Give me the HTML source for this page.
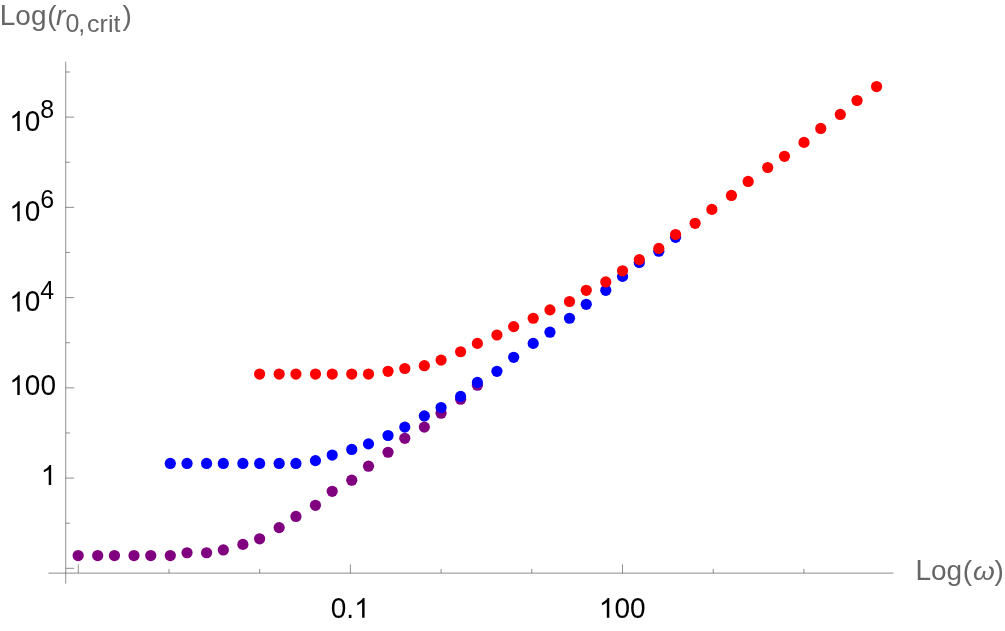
<!DOCTYPE html>
<html><head><meta charset="utf-8"><title>plot</title>
<style>
html,body{margin:0;padding:0;background:#fff;}
svg{display:block;will-change:transform;}
text{font-family:"Liberation Sans",sans-serif;}
</style></head>
<body>
<svg width="1005" height="631" viewBox="0 0 1005 631">
<rect width="1005" height="631" fill="#fff"/>
<g stroke="#666666" stroke-width="0.74" fill="none">
<line x1="65.72" y1="61.6" x2="65.72" y2="583.6"/>
<line x1="48.5" y1="573.12" x2="893.5" y2="573.12"/>
<line x1="65.72" y1="568.32" x2="74.12" y2="568.32"/>
<line x1="65.72" y1="523.20" x2="69.92" y2="523.20"/>
<line x1="65.72" y1="478.08" x2="74.12" y2="478.08"/>
<line x1="65.72" y1="432.96" x2="69.92" y2="432.96"/>
<line x1="65.72" y1="387.84" x2="74.12" y2="387.84"/>
<line x1="65.72" y1="342.72" x2="69.92" y2="342.72"/>
<line x1="65.72" y1="297.60" x2="74.12" y2="297.60"/>
<line x1="65.72" y1="252.48" x2="69.92" y2="252.48"/>
<line x1="65.72" y1="207.36" x2="74.12" y2="207.36"/>
<line x1="65.72" y1="162.24" x2="69.92" y2="162.24"/>
<line x1="65.72" y1="117.12" x2="74.12" y2="117.12"/>
<line x1="65.72" y1="72.00" x2="69.92" y2="72.00"/>
<line x1="78.30" y1="573.12" x2="78.30" y2="564.42"/>
<line x1="169.00" y1="573.12" x2="169.00" y2="568.92"/>
<line x1="259.70" y1="573.12" x2="259.70" y2="568.92"/>
<line x1="350.40" y1="573.12" x2="350.40" y2="564.42"/>
<line x1="441.10" y1="573.12" x2="441.10" y2="568.92"/>
<line x1="531.80" y1="573.12" x2="531.80" y2="568.92"/>
<line x1="622.50" y1="573.12" x2="622.50" y2="564.42"/>
<line x1="713.20" y1="573.12" x2="713.20" y2="568.92"/>
<line x1="803.90" y1="573.12" x2="803.90" y2="568.92"/>
</g>
<g>
<circle cx="78.17" cy="555.54" r="5.6" fill="#800080"/>
<circle cx="97.71" cy="555.54" r="5.6" fill="#800080"/>
<circle cx="114.46" cy="555.54" r="5.6" fill="#800080"/>
<circle cx="134.00" cy="555.54" r="5.6" fill="#800080"/>
<circle cx="150.75" cy="555.54" r="5.6" fill="#800080"/>
<circle cx="170.29" cy="555.54" r="5.6" fill="#800080"/>
<circle cx="187.04" cy="552.75" r="5.6" fill="#800080"/>
<circle cx="206.58" cy="552.75" r="5.6" fill="#800080"/>
<circle cx="223.33" cy="549.96" r="5.6" fill="#800080"/>
<circle cx="242.88" cy="544.38" r="5.6" fill="#800080"/>
<circle cx="259.62" cy="538.79" r="5.6" fill="#800080"/>
<circle cx="279.17" cy="527.62" r="5.6" fill="#800080"/>
<circle cx="295.92" cy="516.46" r="5.6" fill="#800080"/>
<circle cx="315.46" cy="505.29" r="5.6" fill="#800080"/>
<circle cx="332.21" cy="491.33" r="5.6" fill="#800080"/>
<circle cx="351.75" cy="480.17" r="5.6" fill="#800080"/>
<circle cx="368.50" cy="466.21" r="5.6" fill="#800080"/>
<circle cx="388.04" cy="452.25" r="5.6" fill="#800080"/>
<circle cx="404.79" cy="438.29" r="5.6" fill="#800080"/>
<circle cx="424.33" cy="427.12" r="5.6" fill="#800080"/>
<circle cx="441.08" cy="413.17" r="5.6" fill="#800080"/>
<circle cx="460.62" cy="399.21" r="5.6" fill="#800080"/>
<circle cx="477.38" cy="385.25" r="5.6" fill="#800080"/>
</g>
<g>
<circle cx="170.29" cy="463.42" r="5.6" fill="#0000ff"/>
<circle cx="187.04" cy="463.42" r="5.6" fill="#0000ff"/>
<circle cx="206.58" cy="463.42" r="5.6" fill="#0000ff"/>
<circle cx="223.33" cy="463.42" r="5.6" fill="#0000ff"/>
<circle cx="242.88" cy="463.42" r="5.6" fill="#0000ff"/>
<circle cx="259.62" cy="463.42" r="5.6" fill="#0000ff"/>
<circle cx="279.17" cy="463.42" r="5.6" fill="#0000ff"/>
<circle cx="295.92" cy="463.42" r="5.6" fill="#0000ff"/>
<circle cx="315.46" cy="460.62" r="5.6" fill="#0000ff"/>
<circle cx="332.21" cy="455.04" r="5.6" fill="#0000ff"/>
<circle cx="351.75" cy="449.46" r="5.6" fill="#0000ff"/>
<circle cx="368.50" cy="443.88" r="5.6" fill="#0000ff"/>
<circle cx="388.04" cy="435.50" r="5.6" fill="#0000ff"/>
<circle cx="404.79" cy="427.12" r="5.6" fill="#0000ff"/>
<circle cx="424.33" cy="415.96" r="5.6" fill="#0000ff"/>
<circle cx="441.08" cy="407.58" r="5.6" fill="#0000ff"/>
<circle cx="460.62" cy="396.42" r="5.6" fill="#0000ff"/>
<circle cx="477.38" cy="382.46" r="5.6" fill="#0000ff"/>
<circle cx="496.92" cy="371.29" r="5.6" fill="#0000ff"/>
<circle cx="513.67" cy="357.33" r="5.6" fill="#0000ff"/>
<circle cx="533.21" cy="343.38" r="5.6" fill="#0000ff"/>
<circle cx="549.96" cy="332.21" r="5.6" fill="#0000ff"/>
<circle cx="569.50" cy="318.25" r="5.6" fill="#0000ff"/>
<circle cx="586.25" cy="304.29" r="5.6" fill="#0000ff"/>
<circle cx="605.79" cy="290.33" r="5.6" fill="#0000ff"/>
<circle cx="622.54" cy="276.38" r="5.6" fill="#0000ff"/>
<circle cx="639.29" cy="262.42" r="5.6" fill="#0000ff"/>
<circle cx="658.83" cy="251.25" r="5.6" fill="#0000ff"/>
<circle cx="675.58" cy="237.29" r="5.6" fill="#0000ff"/>
</g>
<g>
<circle cx="259.62" cy="374.08" r="5.6" fill="#ff0000"/>
<circle cx="279.17" cy="374.08" r="5.6" fill="#ff0000"/>
<circle cx="295.92" cy="374.08" r="5.6" fill="#ff0000"/>
<circle cx="315.46" cy="374.08" r="5.6" fill="#ff0000"/>
<circle cx="332.21" cy="374.08" r="5.6" fill="#ff0000"/>
<circle cx="351.75" cy="374.08" r="5.6" fill="#ff0000"/>
<circle cx="368.50" cy="374.08" r="5.6" fill="#ff0000"/>
<circle cx="388.04" cy="371.29" r="5.6" fill="#ff0000"/>
<circle cx="404.79" cy="368.50" r="5.6" fill="#ff0000"/>
<circle cx="424.33" cy="365.71" r="5.6" fill="#ff0000"/>
<circle cx="441.08" cy="360.12" r="5.6" fill="#ff0000"/>
<circle cx="460.62" cy="351.75" r="5.6" fill="#ff0000"/>
<circle cx="477.38" cy="343.38" r="5.6" fill="#ff0000"/>
<circle cx="496.92" cy="335.00" r="5.6" fill="#ff0000"/>
<circle cx="513.67" cy="326.62" r="5.6" fill="#ff0000"/>
<circle cx="533.21" cy="318.25" r="5.6" fill="#ff0000"/>
<circle cx="549.96" cy="309.88" r="5.6" fill="#ff0000"/>
<circle cx="569.50" cy="301.50" r="5.6" fill="#ff0000"/>
<circle cx="586.25" cy="290.33" r="5.6" fill="#ff0000"/>
<circle cx="605.79" cy="281.96" r="5.6" fill="#ff0000"/>
<circle cx="622.54" cy="270.79" r="5.6" fill="#ff0000"/>
<circle cx="639.29" cy="259.62" r="5.6" fill="#ff0000"/>
<circle cx="658.83" cy="248.46" r="5.6" fill="#ff0000"/>
<circle cx="675.58" cy="234.50" r="5.6" fill="#ff0000"/>
<circle cx="695.12" cy="223.33" r="5.6" fill="#ff0000"/>
<circle cx="711.88" cy="209.38" r="5.6" fill="#ff0000"/>
<circle cx="731.42" cy="195.42" r="5.6" fill="#ff0000"/>
<circle cx="748.17" cy="181.46" r="5.6" fill="#ff0000"/>
<circle cx="767.71" cy="167.50" r="5.6" fill="#ff0000"/>
<circle cx="784.46" cy="156.33" r="5.6" fill="#ff0000"/>
<circle cx="804.00" cy="142.38" r="5.6" fill="#ff0000"/>
<circle cx="820.75" cy="128.42" r="5.6" fill="#ff0000"/>
<circle cx="840.29" cy="114.46" r="5.6" fill="#ff0000"/>
<circle cx="857.04" cy="100.50" r="5.6" fill="#ff0000"/>
<circle cx="876.58" cy="86.54" r="5.6" fill="#ff0000"/>
</g>
<g fill="#000">
<path d="M763 0H583V1147Q518 1085 412.5 1023T223 930V1104Q374 1175 487 1276T647 1472H763Z" transform="translate(9.30,130.97) scale(0.013672,-0.013508)"/><text transform="translate(24.87,130.97) scale(1,1.041)" font-size="28">0</text>
<text transform="translate(40.34,118.07) scale(1,1.041)" font-size="25">8</text>
<path d="M763 0H583V1147Q518 1085 412.5 1023T223 930V1104Q374 1175 487 1276T647 1472H763Z" transform="translate(9.30,221.21) scale(0.013672,-0.013508)"/><text transform="translate(24.87,221.21) scale(1,1.041)" font-size="28">0</text>
<text transform="translate(40.34,208.31) scale(1,1.041)" font-size="25">6</text>
<path d="M763 0H583V1147Q518 1085 412.5 1023T223 930V1104Q374 1175 487 1276T647 1472H763Z" transform="translate(9.30,311.45) scale(0.013672,-0.013508)"/><text transform="translate(24.87,311.45) scale(1,1.041)" font-size="28">0</text>
<text transform="translate(40.34,298.55) scale(1,1.041)" font-size="25">4</text>
<path d="M763 0H583V1147Q518 1085 412.5 1023T223 930V1104Q374 1175 487 1276T647 1472H763Z" transform="translate(9.30,395.04) scale(0.013672,-0.013508)"/><text transform="translate(24.87,395.04) scale(1,1.041)" font-size="28">0</text><text transform="translate(40.44,395.04) scale(1,1.041)" font-size="28">0</text>
<path d="M763 0H583V1147Q518 1085 412.5 1023T223 930V1104Q374 1175 487 1276T647 1472H763Z" transform="translate(40.74,484.93) scale(0.013672,-0.013508)"/>
<text transform="translate(330.80,617.85) scale(1,1.041)" font-size="28">0</text><text transform="translate(346.37,617.85) scale(1,1.041)" font-size="28">.</text><path d="M763 0H583V1147Q518 1085 412.5 1023T223 930V1104Q374 1175 487 1276T647 1472H763Z" transform="translate(354.15,617.85) scale(0.013672,-0.013508)"/>
<path d="M763 0H583V1147Q518 1085 412.5 1023T223 930V1104Q374 1175 487 1276T647 1472H763Z" transform="translate(598.85,617.85) scale(0.013672,-0.013508)"/><text transform="translate(614.42,617.85) scale(1,1.041)" font-size="28">0</text><text transform="translate(629.99,617.85) scale(1,1.041)" font-size="28">0</text>
<text transform="translate(-0.20,25.30) scale(1,1.041)" font-size="28" fill="#666">L</text><text transform="translate(15.37,25.30) scale(1,0.982)" font-size="28" fill="#666">og</text><text transform="translate(47.22,25.30) scale(1,0.994)" font-size="28" fill="#666">(</text>
<text transform="translate(56.10,25.30) scale(1,0.982)" font-size="28" fill="#666" font-style="italic">r</text>
<text transform="translate(65.50,32.30) scale(1,1.041)" font-size="25" fill="#666">0</text>
<text transform="translate(78.20,32.30) scale(1,1)" font-size="25" fill="#666">,</text>
<text transform="translate(87.10,32.30) scale(1,0.988)" font-size="25" fill="#666">crit</text>
<text transform="translate(122.40,25.30) scale(1,0.994)" font-size="28" fill="#666">)</text>
<text transform="translate(915.45,580.00) scale(1,1.041)" font-size="28" fill="#666">L</text><text transform="translate(931.02,580.00) scale(1,0.982)" font-size="28" fill="#666">og</text><text transform="translate(962.87,580.00) scale(1,0.994)" font-size="28" fill="#666">(</text>
<text transform="translate(972.90,580.00) scale(1,0.92)" font-size="28" fill="#666" font-style="italic">ω</text>
<text transform="translate(994.50,580.00) scale(1,0.994)" font-size="28" fill="#666">)</text>
</g>
</svg>
</body></html>
